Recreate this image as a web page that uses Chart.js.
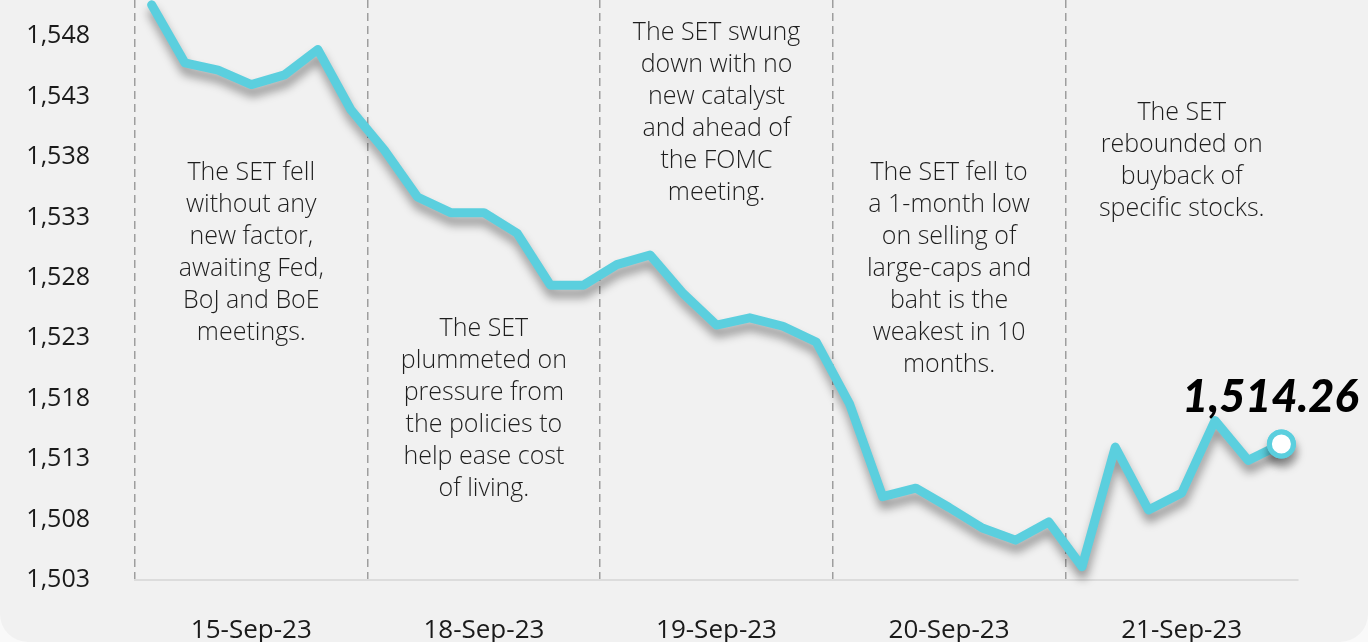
<!DOCTYPE html>
<html>
<head>
<meta charset="utf-8">
<script src="https://cdn.jsdelivr.net/npm/chart.js@4.4.0/dist/chart.umd.min.js"></script>
<style>
  html, body { margin: 0; padding: 0; background: #f9f9f9; }
  .card { width: 1368px; height: 642px; background: #f1f1f1; border-radius: 0 0 28px 28px; overflow: hidden; }
</style>
</head>
<body>
<div class="card"><canvas id="myChart" width="1368" height="642"></canvas></div>
<script>
// Trading days shown along the x-axis (7 readings per day)
var days = ["15-Sep-23", "18-Sep-23", "19-Sep-23", "20-Sep-23", "21-Sep-23"];
var pointsPerDay = 7;

// SET index readings
var setIndex = [
  1550.6, 1545.8, 1545.2, 1544.0, 1544.8, 1546.9, 1541.9,
  1538.6, 1534.7, 1533.4, 1533.4, 1531.7, 1527.4, 1527.4,
  1529.1, 1529.9, 1526.7, 1524.1, 1524.7, 1524.0, 1522.7,
  1517.6, 1509.9, 1510.6, 1509.0, 1507.3, 1506.3, 1507.8,
  1504.1, 1514.0, 1508.8, 1510.2, 1516.2, 1512.9, 1514.26
];

// y-axis tick labels
var yTicks = [1503, 1508, 1513, 1518, 1523, 1528, 1533, 1538, 1543, 1548];

// daily comments, and the index level where each one starts
var notes = [
  ["The SET fell", "without any", "new factor,", "awaiting Fed,", "BoJ and BoE", "meetings."],
  ["The SET", "plummeted on", "pressure from", "the policies to", "help ease cost", "of living."],
  ["The SET swung", "down with no", "new catalyst", "and ahead of", "the FOMC", "meeting."],
  ["The SET fell to", "a 1-month low", "on selling of", "large-caps and", "baht is the", "weakest in 10", "months."],
  ["The SET", "rebounded on", "buyback of", "specific stocks."]
];
var noteTops = [1536.7, 1523.8, 1548.3, 1536.7, 1541.7];

var lineColor = "#5bcfde";
var labels = [];
for (var i = 0; i < days.length * pointsPerDay; i++) {
  labels.push(i % pointsPerDay === 3 ? days[Math.floor(i / pointsPerDay)] : "");
}
var last = setIndex.length - 1;

var shadowPlugin = {
  id: "shadow",
  beforeDatasetDraw: function (chart) {
    var c = chart.ctx;
    c.save();
    c.shadowColor = "rgba(0,0,0,0.38)";
    c.shadowBlur = 10;
    c.shadowOffsetX = 1;
    c.shadowOffsetY = 8;
  },
  afterDatasetDraw: function (chart) {
    chart.ctx.restore();
    // redraw the end marker without shadow so its centre stays white
    chart.getDatasetMeta(0).data[last].draw(chart.ctx, chart.chartArea);
  }
};

var notesPlugin = {
  id: "notes",
  beforeDatasetsDraw: function (chart) {
    var c = chart.ctx, x = chart.scales.x, y = chart.scales.y;
    c.save();
    c.fillStyle = "#1e1e1e";
    c.font = "300 25px 'Open Sans'";
    c.textAlign = "center";
    c.textBaseline = "middle";
    notes.forEach(function (lines, d) {
      var cx = x.getPixelForValue(d * pointsPerDay + 3);
      var top = y.getPixelForValue(noteTops[d]);
      lines.forEach(function (t, k) {
        c.fillText(t, cx, top + k * 32);
      });
    });
    c.restore();
  }
};

var lastValuePlugin = {
  id: "lastValue",
  afterDatasetsDraw: function (chart) {
    var c = chart.ctx;
    var pt = chart.getDatasetMeta(0).data[last];
    c.save();
    c.fillStyle = "#000";
    c.font = "italic 900 45px 'Lato'";
    c.textAlign = "center";
    c.textBaseline = "alphabetic";
    c.fillText(setIndex[last].toLocaleString("en-US", { minimumFractionDigits: 2 }), pt.x - 11, pt.y - 32);
    c.restore();
  }
};

var ctx = document.getElementById("myChart");
var myChart = new Chart(ctx, {
  type: "line",
  data: {
    labels: labels,
    datasets: [
      {
        data: setIndex,
        borderColor: lineColor,
        borderWidth: 9,
        tension: 0,
        fill: false,
        clip: false,
        borderJoinStyle: "round",
        borderCapStyle: "round",
        pointRadius: function (c) { return c.dataIndex === last ? 12 : 0; },
        pointHoverRadius: function (c) { return c.dataIndex === last ? 12 : 0; },
        pointBorderWidth: 5,
        pointBackgroundColor: "#ffffff",
        pointBorderColor: lineColor
      }
    ]
  },
  options: {
    responsive: false,
    animation: false,
    layout: { autoPadding: false, padding: { top: 0, right: 70, bottom: 0, left: 0 } },
    plugins: {
      legend: { display: false },
      title: { display: false },
      tooltip: { enabled: false }
    },
    scales: {
      x: {
        offset: true,
        afterFit: function (s) { s.height = 62; s.paddingLeft = 0; s.paddingRight = 0; },
        grid: {
          offset: true,
          drawTicks: false,
          lineWidth: 1.5,
          color: function (c) { return c.index % pointsPerDay === 0 ? "#9e9e9e" : "rgba(0,0,0,0)"; }
        },
        border: { display: true, color: "#dcdcdc", width: 2, dash: [8, 5] },
        ticks: {
          autoSkip: false,
          maxRotation: 0,
          padding: 35,
          color: "#1a1a1a",
          font: { family: "'Open Sans'", size: 26 }
        }
      },
      y: {
        min: 1503,
        max: 1551,
        afterFit: function (s) { s.width = 135; s.paddingTop = 0; s.paddingBottom = 0; },
        afterBuildTicks: function (s) { s.ticks = yTicks.map(function (v) { return { value: v }; }); },
        grid: { display: false, drawTicks: false },
        border: { display: false },
        ticks: {
          padding: 45,
          color: "#1a1a1a",
          font: { family: "'Open Sans'", size: 25 },
          callback: function (v) { return v.toLocaleString("en-US"); }
        }
      }
    }
  },
  plugins: [shadowPlugin, notesPlugin, lastValuePlugin]
});
</script>
</body>
</html>
